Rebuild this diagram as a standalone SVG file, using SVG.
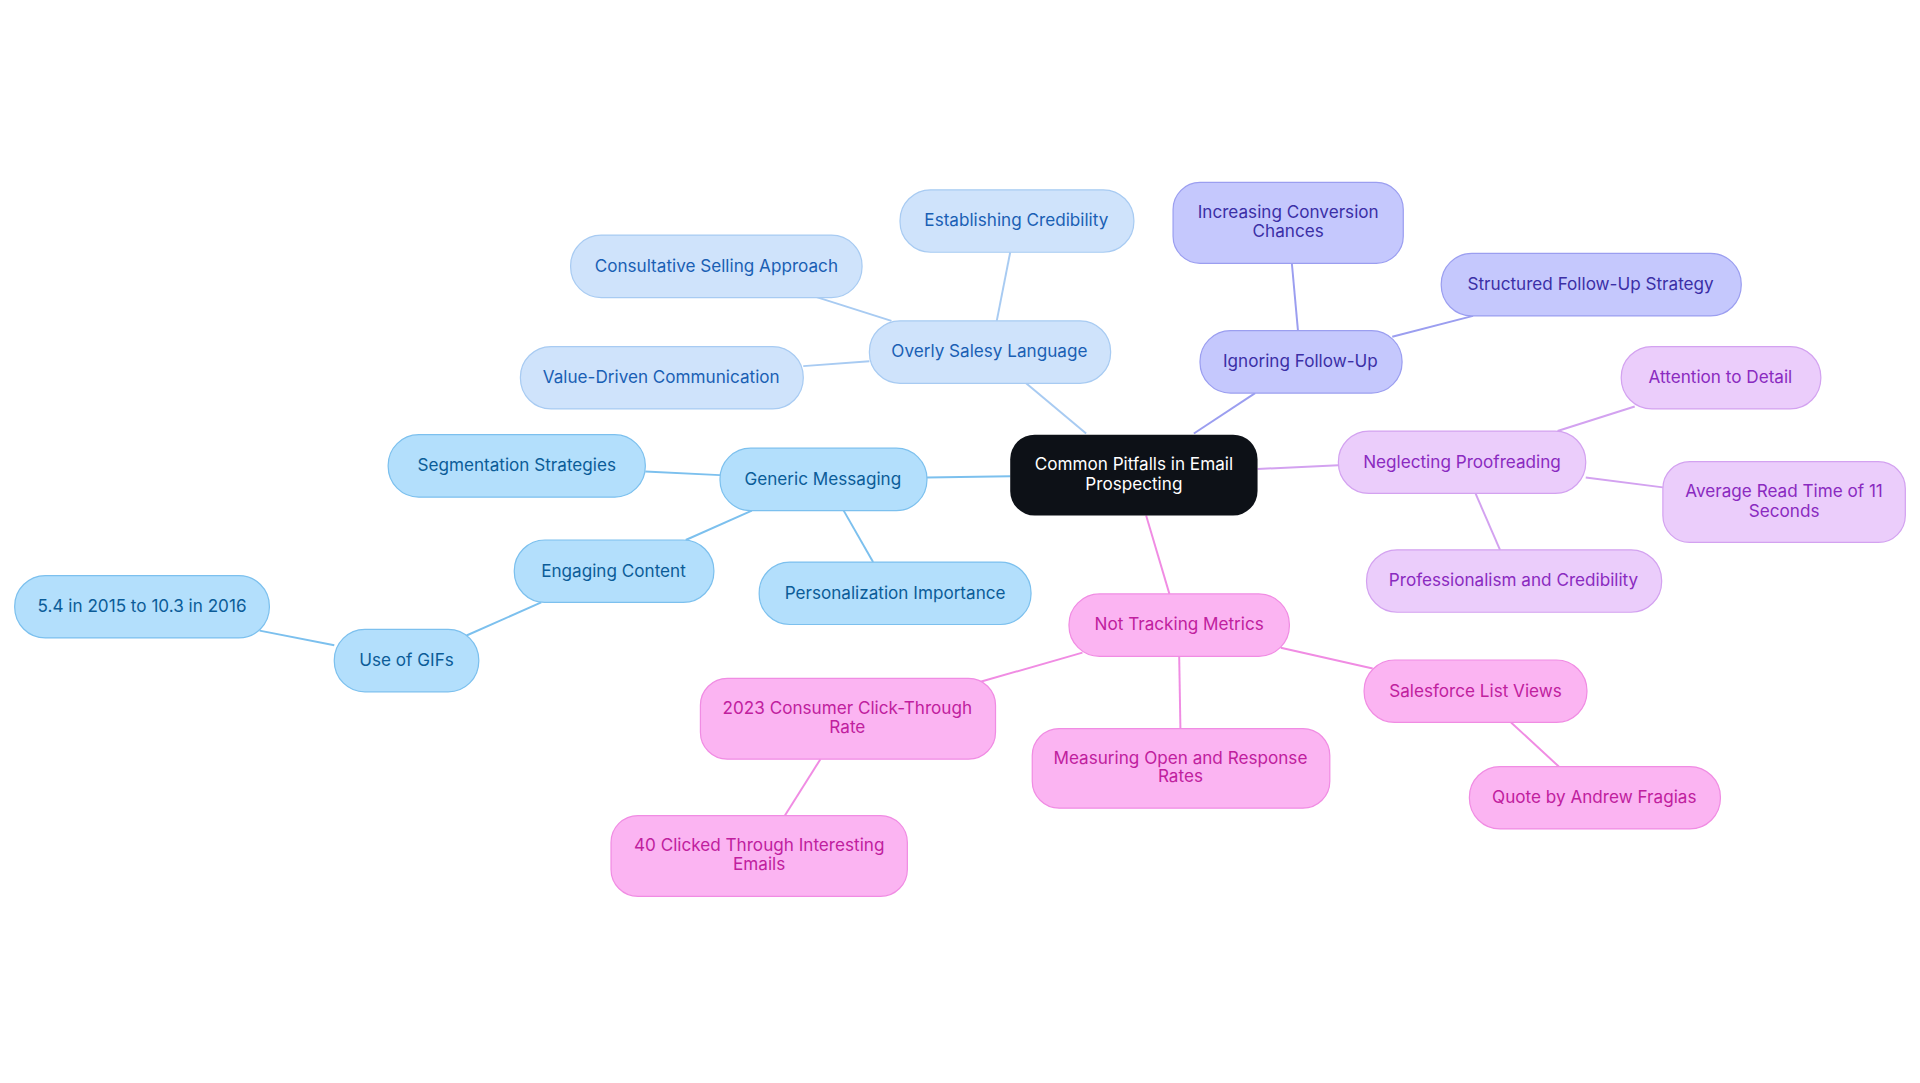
<svg xmlns="http://www.w3.org/2000/svg" width="1920" height="1083" viewBox="0 0 1920 1083">
<style>
text{font-family:Inter,"Liberation Sans",sans-serif;font-size:14px;text-anchor:middle;dominant-baseline:middle}
.a rect{fill:#cfe3fb;stroke:#a8cbf2}.a text{fill:#1a5fb4}
.b rect{fill:#b3dffc;stroke:#7cc0ee}.b text{fill:#0b5c98}
.c rect{fill:#c5c8fd;stroke:#9b9ef0}.c text{fill:#3b2fa6}
.d rect{fill:#ebcdfb;stroke:#d3a2f0}.d text{fill:#8a2ac0}
.e rect{fill:#fbb4f2;stroke:#f08ce3}.e text{fill:#c0209e}
rect{stroke-width:1}
#conn line{stroke-width:1.6;fill:none}
</style>
<rect width="1920" height="1083" fill="#fff"/>
<g transform="scale(1.2245)">
<g id="conn">
<g stroke="#a8cbf2"><line x1="887" y1="354" x2="838" y2="313"/><line x1="814" y1="262" x2="825" y2="206"/><line x1="728" y1="262" x2="665" y2="242"/><line x1="710" y1="295" x2="656" y2="299"/></g>
<g stroke="#7cc0ee"><line x1="825" y1="389" x2="757" y2="390"/><line x1="588" y1="388" x2="527" y2="385"/><line x1="614" y1="417" x2="560" y2="441"/><line x1="689" y1="417" x2="713" y2="459"/><line x1="442" y1="492" x2="381" y2="519"/><line x1="273" y1="527" x2="212" y2="515"/></g>
<g stroke="#9b9ef0"><line x1="975" y1="354" x2="1025" y2="321"/><line x1="1060" y1="270" x2="1055" y2="215"/><line x1="1137" y1="275" x2="1203" y2="258"/></g>
<g stroke="#d3a2f0"><line x1="1027" y1="383" x2="1093" y2="380"/><line x1="1272" y1="352" x2="1335" y2="332"/><line x1="1295" y1="390" x2="1358" y2="398"/><line x1="1205" y1="403" x2="1225" y2="449"/></g>
<g stroke="#f08ce3"><line x1="936" y1="421" x2="955" y2="485"/><line x1="884" y1="533" x2="800" y2="557"/><line x1="670" y1="620" x2="641" y2="666"/><line x1="963" y1="536" x2="964" y2="595"/><line x1="1046" y1="529" x2="1121" y2="546"/><line x1="1234" y1="590" x2="1273" y2="626"/></g>
</g>
<g id="center"><rect x="825" y="355" width="202" height="66" rx="20" fill="#0d1117"/><text x="926" y="380" fill="#fff">Common Pitfalls in Email</text><text x="926" y="396" fill="#fff">Prospecting</text></g>
<g id="n1" class="a"><rect x="710" y="262" width="197" height="51" rx="25"/><text x="808" y="288">Overly Salesy Language</text></g>
<g id="n2" class="a"><rect x="735" y="155" width="191" height="51" rx="25"/><text x="830" y="181">Establishing Credibility</text></g>
<g id="n3" class="a"><rect x="466" y="192" width="238" height="51" rx="25"/><text x="585" y="218">Consultative Selling Approach</text></g>
<g id="n4" class="a"><rect x="425" y="283" width="231" height="51" rx="25"/><text x="540" y="309">Value-Driven Communication</text></g>
<g id="n5" class="b"><rect x="588" y="366" width="169" height="51" rx="25"/><text x="672" y="392">Generic Messaging</text></g>
<g id="n6" class="b"><rect x="317" y="355" width="210" height="51" rx="25"/><text x="422" y="381">Segmentation Strategies</text></g>
<g id="n7" class="b"><rect x="420" y="441" width="163" height="51" rx="25"/><text x="501" y="467">Engaging Content</text></g>
<g id="n8" class="b"><rect x="620" y="459" width="222" height="51" rx="25"/><text x="731" y="485">Personalization Importance</text></g>
<g id="n9" class="b"><rect x="273" y="514" width="118" height="51" rx="25"/><text x="332" y="540">Use of GIFs</text></g>
<g id="n10" class="b"><rect x="12" y="470" width="208" height="51" rx="25"/><text x="116" y="496">5.4 in 2015 to 10.3 in 2016</text></g>
<g id="n11" class="c"><rect x="980" y="270" width="165" height="51" rx="25"/><text x="1062" y="296">Ignoring Follow-Up</text></g>
<g id="n12" class="c"><rect x="958" y="149" width="188" height="66" rx="22"/><text x="1052" y="174">Increasing Conversion</text><text x="1052" y="190">Chances</text></g>
<g id="n13" class="c"><rect x="1177" y="207" width="245" height="51" rx="25"/><text x="1299" y="233">Structured Follow-Up Strategy</text></g>
<g id="n14" class="d"><rect x="1093" y="352" width="202" height="51" rx="25"/><text x="1194" y="378">Neglecting Proofreading</text></g>
<g id="n15" class="d"><rect x="1324" y="283" width="163" height="51" rx="25"/><text x="1405" y="309">Attention to Detail</text></g>
<g id="n16" class="d"><rect x="1358" y="377" width="198" height="66" rx="22"/><text x="1457" y="402">Average Read Time of 11</text><text x="1457" y="418">Seconds</text></g>
<g id="n17" class="d"><rect x="1116" y="449" width="241" height="51" rx="25"/><text x="1236" y="475">Professionalism and Credibility</text></g>
<g id="n18" class="e"><rect x="873" y="485" width="180" height="51" rx="25"/><text x="963" y="511">Not Tracking Metrics</text></g>
<g id="n19" class="e"><rect x="572" y="554" width="241" height="66" rx="22"/><text x="692" y="579">2023 Consumer Click-Through</text><text x="692" y="595">Rate</text></g>
<g id="n20" class="e"><rect x="499" y="666" width="242" height="66" rx="22"/><text x="620" y="691">40 Clicked Through Interesting</text><text x="620" y="707">Emails</text></g>
<g id="n21" class="e"><rect x="843" y="595" width="243" height="65" rx="22"/><text x="964" y="620">Measuring Open and Response</text><text x="964" y="635">Rates</text></g>
<g id="n22" class="e"><rect x="1114" y="539" width="182" height="51" rx="25"/><text x="1205" y="565">Salesforce List Views</text></g>
<g id="n23" class="e"><rect x="1200" y="626" width="205" height="51" rx="25"/><text x="1302" y="652">Quote by Andrew Fragias</text></g>
</g>
</svg>
